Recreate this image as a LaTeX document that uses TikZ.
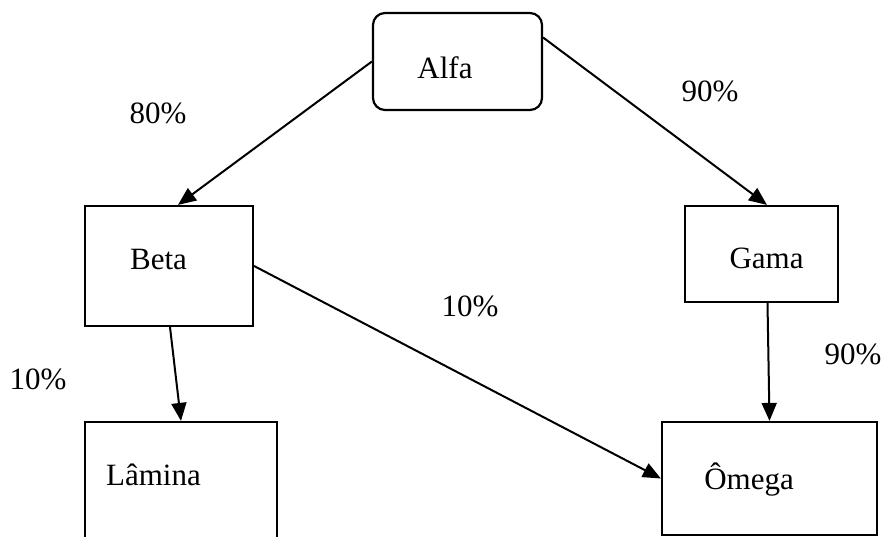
\documentclass[tikz,border=0pt]{standalone}
\usepackage{fontspec}
\setmainfont{Liberation Serif}
\usetikzlibrary{arrows.meta}

\begin{document}
\begin{tikzpicture}[x=1pt, y=-1pt,
        >={Triangle[length=18pt,width=15pt]},
        every node/.style={font=\fontsize{31}{36}\selectfont},
        box/.style={draw, line width=2.2pt, inner sep=0pt},
        link/.style={->, line width=2pt}]
        \useasboundingbox (0,0) rectangle (885,536);

        \node[box, rounded corners=12pt, minimum width=169pt, minimum height=97pt,
              label={[xshift=-12.5pt, yshift=-6.5pt]center:Alfa}] (alfa) at (457.5,61.5) {};

        \node[box, minimum width=168pt, minimum height=120pt,
              label={[xshift=-10.5pt, yshift=7pt]center:Beta}] (beta) at (169,266) {};
        \node[box, minimum width=153pt, minimum height=96pt,
              label={[xshift=5pt, yshift=-4pt]center:Gama}] (gama) at (761.5,254) {};

        \node[box, minimum width=192pt, minimum height=128pt,
              label={[xshift=-27.5pt, yshift=11pt]center:Lâmina}] (lamina) at (181,486) {};
        \node[box, minimum width=215pt, minimum height=113pt,
              label={[xshift=-20.5pt, yshift=-1.5pt]center:Ômega}] (omega) at (769.5,478.5) {};

        \node (p80) at (158,113) {80\%};
        \node (p90a) at (710,91) {90\%};
        \node (p10a) at (470,306) {10\%};
        \node (p10b) at (38,379) {10\%};
        \node (p90b) at (853,354) {90\%};

        \draw[link] (alfa.west) -- ([xshift=9pt]beta.north);
        \draw[link] ([yshift=24pt]alfa.east) -- ([xshift=5.5pt]gama.north);

        \draw[link] ([xshift=1pt]beta.south) -- (lamina.north);
        \draw[link] (beta.east) -- (omega.west);
        \draw[link] ([xshift=6pt]gama.south) -- (omega.north);
    \end{tikzpicture}
\end{document}
